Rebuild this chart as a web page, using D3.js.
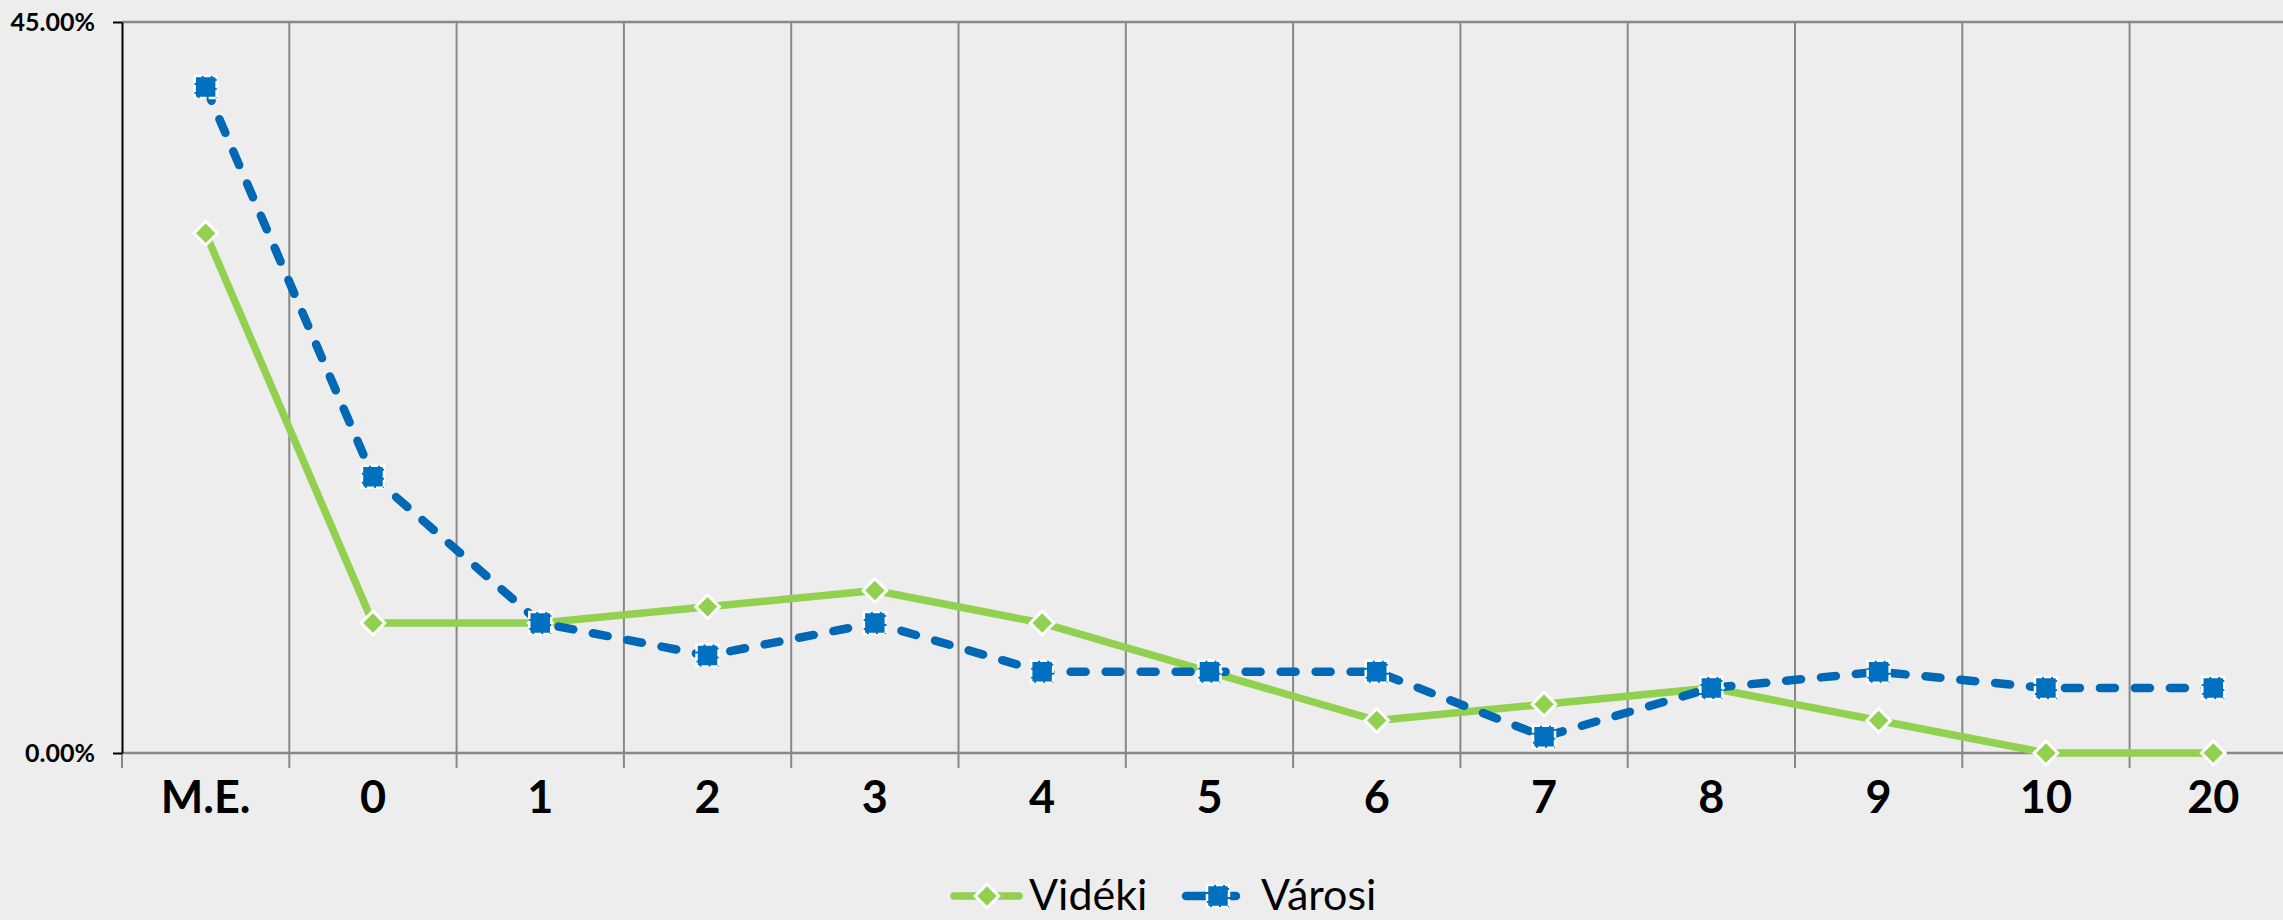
<!DOCTYPE html>
<html>
<head>
<meta charset="utf-8">
<script src="https://cdn.jsdelivr.net/npm/d3@7"></script>
<style>
  body { margin: 0; background: #ededed; }
  svg { display: block; }
</style>
</head>
<body>
<svg id="chart"></svg>
<script>
// data
const categories = ['M.E.', '0', '1', '2', '3', '4', '5', '6', '7', '8', '9', '10', '20'];
const videki = [0.32, 0.08, 0.08, 0.09, 0.10, 0.08, 0.05, 0.02, 0.03, 0.04, 0.02, 0.00, 0.00];
const varosi = [0.41, 0.17, 0.08, 0.06, 0.08, 0.05, 0.05, 0.05, 0.01, 0.04, 0.05, 0.04, 0.04];
const yTicks = [0, 0.45];

const width = 2283, height = 920;
const margin = { top: 22, left: 122, bottom: 167 };
const bandW = 167.3;

const svg = d3.select('#chart')
    .attr('width', width)
    .attr('height', height);

svg.append('rect')
    .attr('width', width)
    .attr('height', height)
    .attr('fill', '#ededed');

const xScale = d3.scaleBand()
    .domain(categories)
    .range([margin.left, margin.left + bandW * categories.length]);

const yScale = d3.scaleLinear()
    .domain([0, 0.45])
    .range([height - margin.bottom, margin.top]);

// vertical gridlines on the category boundaries
svg.append('g')
    .selectAll('line')
    .data(categories.slice(1))
    .join('line')
    .attr('x1', d => xScale(d))
    .attr('x2', d => xScale(d))
    .attr('y1', yScale(0.45))
    .attr('y2', yScale(0) + 15)
    .attr('stroke', '#888')
    .attr('stroke-width', 2);

// top gridline
svg.append('line')
    .attr('x1', margin.left)
    .attr('x2', width)
    .attr('y1', yScale(0.45))
    .attr('y2', yScale(0.45))
    .attr('stroke', '#888')
    .attr('stroke-width', 2.5);

// x axis
const xAxis = d3.axisBottom(xScale)
    .tickSize(0)
    .tickPadding(28);

const xAxisG = svg.append('g')
    .attr('transform', `translate(0,${yScale(0)})`)
    .call(xAxis);
xAxisG.select('.domain').remove();
xAxisG.selectAll('text')
    .attr('font-family', 'Lato, "Open Sans", sans-serif')
    .attr('font-weight', 'bold')
    .attr('font-size', '45px')
    .attr('fill', '#000');

svg.append('line')
    .attr('x1', margin.left)
    .attr('x2', width)
    .attr('y1', yScale(0))
    .attr('y2', yScale(0))
    .attr('stroke', '#888')
    .attr('stroke-width', 2.5);

svg.append('line')
    .attr('x1', margin.left)
    .attr('x2', margin.left)
    .attr('y1', yScale(0))
    .attr('y2', yScale(0) + 15)
    .attr('stroke', '#888')
    .attr('stroke-width', 2);

// y axis
const yAxis = d3.axisLeft(yScale)
    .tickValues(yTicks)
    .tickFormat(d3.format('.2%'))
    .tickSize(9)
    .tickPadding(18)
    .tickSizeOuter(0);

const yAxisG = svg.append('g')
    .attr('transform', `translate(${margin.left},0)`)
    .call(yAxis);
yAxisG.select('.domain')
    .attr('stroke', '#000')
    .attr('stroke-width', 2);
yAxisG.selectAll('.tick line')
    .attr('stroke', '#000')
    .attr('stroke-width', 2);
yAxisG.selectAll('text')
    .attr('font-family', 'Lato, "Open Sans", sans-serif')
    .attr('font-weight', 'bold')
    .attr('font-size', '25px')
    .attr('fill', '#000');

const cx = (d, i) => xScale(categories[i]) + xScale.bandwidth() / 2;

const line = d3.line()
    .x((d, i) => cx(d, i))
    .y(d => yScale(d));

const green = '#92d050', blue = '#0070c0', blueLine = '#0068b4';

svg.append('path')
    .datum(videki)
    .attr('d', line)
    .attr('fill', 'none')
    .attr('stroke', green)
    .attr('stroke-width', 7.5)
    .attr('stroke-linejoin', 'round');

svg.append('path')
    .datum(varosi)
    .attr('d', line)
    .attr('fill', 'none')
    .attr('stroke', blueLine)
    .attr('stroke-width', 8.5)
    .attr('stroke-linecap', 'round')
    .attr('stroke-dasharray', '15,20');

const diamond = d3.symbol().type(d3.symbolSquare).size(280);

svg.append('g')
    .selectAll('path')
    .data(videki)
    .join('path')
    .attr('d', diamond)
    .attr('transform', (d, i) => `translate(${cx(d, i)},${yScale(d)}) rotate(45)`)
    .attr('fill', green)
    .attr('stroke', '#fff')
    .attr('stroke-width', 3);

svg.append('g')
    .selectAll('rect')
    .data(varosi)
    .join('rect')
    .attr('x', (d, i) => cx(d, i) - 11)
    .attr('y', d => yScale(d) - 11)
    .attr('width', 22)
    .attr('height', 22)
    .attr('fill', blue)
    .attr('stroke', '#fff')
    .attr('stroke-width', 2.5)
    .attr('stroke-dasharray', '7,2');

// legend
const legend = svg.append('g')
    .attr('transform', 'translate(0,896)');

legend.append('line')
    .attr('x1', 954).attr('x2', 1019)
    .attr('stroke', green)
    .attr('stroke-width', 7.5)
    .attr('stroke-linecap', 'round');
legend.append('path')
    .attr('d', diamond)
    .attr('transform', 'translate(987,0) rotate(45)')
    .attr('fill', green)
    .attr('stroke', '#fff')
    .attr('stroke-width', 3);
legend.append('text')
    .attr('x', 1029)
    .attr('y', 14)
    .attr('font-family', 'Lato, "Open Sans", sans-serif')
    .attr('font-size', '43px')
    .attr('fill', '#000')
    .text('Vidéki');

legend.append('line')
    .attr('x1', 1186).attr('x2', 1236)
    .attr('stroke', blueLine)
    .attr('stroke-width', 8.5)
    .attr('stroke-linecap', 'round');
legend.append('rect')
    .attr('x', 1207).attr('y', -11)
    .attr('width', 22).attr('height', 22)
    .attr('fill', blue)
    .attr('stroke', '#fff')
    .attr('stroke-width', 2.5)
    .attr('stroke-dasharray', '7,2');
legend.append('text')
    .attr('x', 1261)
    .attr('y', 14)
    .attr('font-family', 'Lato, "Open Sans", sans-serif')
    .attr('font-size', '43px')
    .attr('fill', '#000')
    .text('Városi');
</script>
</body>
</html>
